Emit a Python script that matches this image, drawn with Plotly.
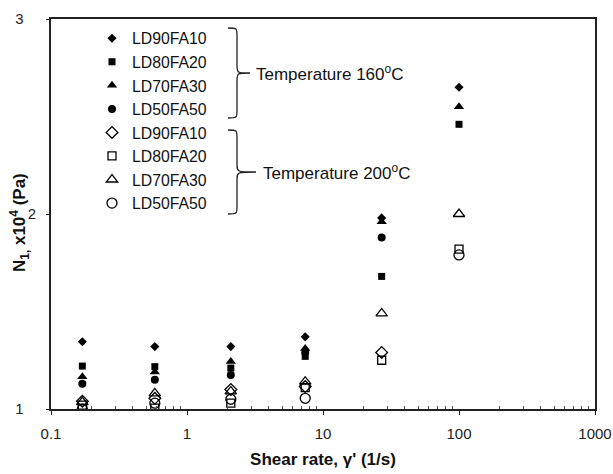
import plotly.graph_objects as go

# ---- data ----
shear_rate = [0.17, 0.58, 2.1, 7.4, 27, 100]

labels = ["LD90FA10", "LD80FA20", "LD70FA30", "LD50FA50"]

n1_160 = {
    "LD90FA10": [1.345, 1.32, 1.32, 1.37, 1.98, 2.65],
    "LD80FA20": [1.22, 1.217, 1.21, 1.27, 1.68, 2.46],
    "LD70FA30": [1.165, 1.19, 1.243, 1.31, 1.96, 2.55],
    "LD50FA50": [1.13, 1.15, 1.174, 1.29, 1.88, None],
}
n1_200 = {
    "LD90FA10": [1.04, 1.055, 1.10, 1.115, 1.29, None],
    "LD80FA20": [1.02, 1.005, 1.03, 1.11, 1.25, 1.82],
    "LD70FA30": [1.035, 1.08, 1.09, 1.14, 1.49, 2.00],
    "LD50FA50": [1.00, 1.03, 1.05, 1.055, None, 1.79],
}

x_ticks = [0.1, 1, 10, 100, 1000]
x_ticktext = ["0.1", "1", "10", "100", "1000"]
x_minor = [m * 10 ** e for e in range(-1, 3) for m in range(2, 10)]
y_ticks = [1, 2, 3]
y_ticktext = ["1\u00a0\u00a0\u00a0", "2", "3\u00a0\u00a0\u00a0"]

filled_symbols = ["diamond", "square", "triangle-up", "circle"]
open_symbols = ["diamond-open", "square-open", "triangle-up-open", "circle-open"]
filled_sizes = [7, 7, 9, 8]
open_sizes = [9, 8, 10, 10]

FONT = "Arial, Liberation Sans, sans-serif"

fig = go.Figure()
for lab, sym, sz in zip(labels, filled_symbols, filled_sizes):
    fig.add_trace(go.Scatter(x=shear_rate, y=n1_160[lab], mode="markers", name=lab,
                             marker=dict(symbol=sym, size=sz, color="black")))
for lab, sym, sz in zip(labels, open_symbols, open_sizes):
    fig.add_trace(go.Scatter(x=shear_rate, y=n1_200[lab], mode="markers", name=lab,
                             marker=dict(symbol=sym, size=sz, color="black",
                                         line=dict(width=1.3, color="black"))))

# plot area in pixels
L, R, T, B = 51, 595, 19, 409
W, H = 613, 474


def px(x):
    return (x - L) / (R - L)


def py(y):
    return (B - y) / (B - T)


def brace(x0, xs, xt, ytop, ybot):
    ym = (ytop + ybot) / 2
    pts = [
        f"M {px(x0)} {py(ytop)}",
        f"C {px(xs)} {py(ytop)}, {px(xs)} {py(ytop)}, {px(xs)} {py(ytop+8)}",
        f"L {px(xs)} {py(ym-8)}",
        f"C {px(xs)} {py(ym)}, {px(xs)} {py(ym)}, {px(xt)} {py(ym)}",
        f"C {px(xs)} {py(ym)}, {px(xs)} {py(ym)}, {px(xs)} {py(ym+8)}",
        f"L {px(xs)} {py(ybot-8)}",
        f"C {px(xs)} {py(ybot)}, {px(xs)} {py(ybot)}, {px(x0)} {py(ybot)}",
    ]
    return dict(type="path", xref="paper", yref="paper", path=" ".join(pts),
                line=dict(color="#222", width=1.3))


shapes = [brace(228, 237, 250, 28, 118), brace(228, 237, 256, 130, 214)]

annotations = [
    dict(text="Temperature 160<sup>o</sup>C", x=px(254), y=py(73), xref="paper", yref="paper",
         xanchor="left", yanchor="middle", showarrow=False, font=dict(family=FONT, size=17, color="#111")),
    dict(text="Temperature 200<sup>o</sup>C", x=px(261), y=py(172), xref="paper", yref="paper",
         xanchor="left", yanchor="middle", showarrow=False, font=dict(family=FONT, size=17, color="#111")),
    dict(text="<b>N<sub>1,</sub> x10<sup>4</sup> (Pa)</b>", textangle=-90,
         x=px(20), y=py(223), xref="paper", yref="paper", xanchor="center", yanchor="middle",
         showarrow=False, font=dict(family=FONT, size=17, color="#111")),
]

fig.update_layout(
    width=W, height=H,
    margin=dict(l=L, r=W - R, t=T, b=H - B, autoexpand=False),
    paper_bgcolor="white", plot_bgcolor="white",
    font=dict(family=FONT, color="#111"),
    showlegend=True,
    legend=dict(x=px(92), y=py(21.5), xanchor="left", yanchor="top",
                bgcolor="rgba(0,0,0,0)", font=dict(family=FONT, size=15.8, color="#111"),
                itemwidth=30, tracegroupgap=0),
    shapes=shapes,
    annotations=annotations,
    xaxis=dict(type="log", range=[-1, 3], tickvals=x_ticks, ticktext=x_ticktext,
               showgrid=False, zeroline=False, showline=True, linecolor="#222", linewidth=2,
               mirror=True, ticks="outside", ticklen=4, tickcolor="#222",
               minor=dict(tickvals=x_minor, ticks="inside", ticklen=3, tickcolor="#555", showgrid=False),
               tickfont=dict(family=FONT, size=15, color="#222"), ticklabelstandoff=6,
               title=dict(text="<b>Shear rate, γ' (1/s)</b>", font=dict(family=FONT, size=17, color="#111"),
                          standoff=12),
               automargin=False),
    yaxis=dict(range=[1, 3], tickvals=y_ticks, ticktext=y_ticktext, showgrid=False, zeroline=False,
               showline=True, linecolor="#222", linewidth=2, mirror=True,
               ticks="outside", ticklen=3, tickcolor="#222",
               tickfont=dict(family=FONT, size=15, color="#222"), ticklabelstandoff=7,
               automargin=False),
)

fig.write_html("out.html")
